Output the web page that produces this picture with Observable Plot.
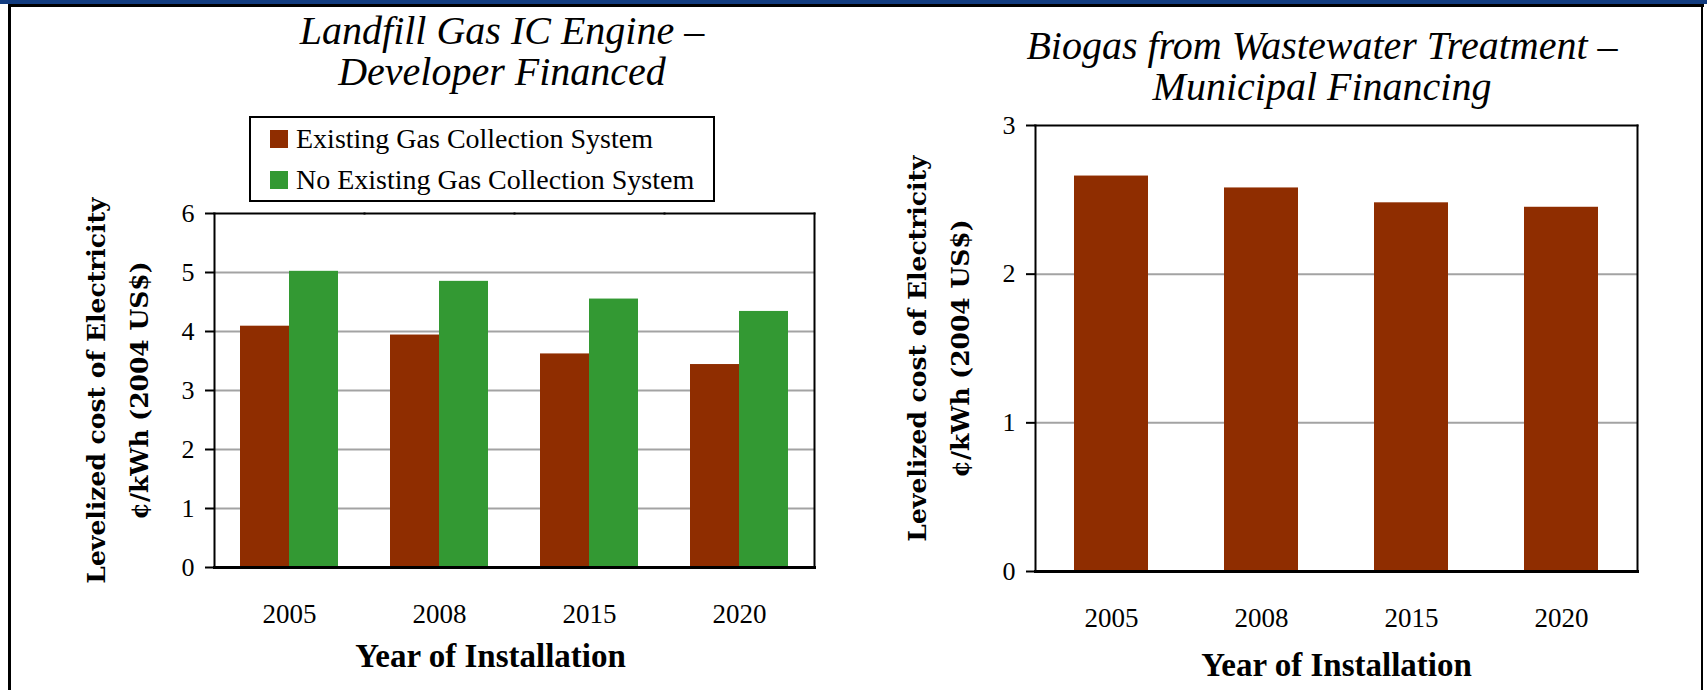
<!DOCTYPE html>
<html>
<head>
<meta charset="utf-8">
<script src="https://cdn.jsdelivr.net/npm/d3@7"></script>
<script src="https://cdn.jsdelivr.net/npm/@observablehq/plot@0.6"></script>
<style>
  html, body { margin: 0; padding: 0; background: #fff; }
  #page { position: relative; width: 1707px; height: 690px; overflow: hidden; background: #fff; }
  .deco { position: absolute; z-index: 5; }
  #chartL, #chartR { position: absolute; top: 0; }
  #chartL { left: 0; }
  #chartR { left: 860px; }
  #chartL svg, #chartR svg { display: block; background: transparent !important; }
  .title { position: absolute; z-index: 4; font-family: "Liberation Serif", serif; font-style: italic;
           font-size: 40px; line-height: 41px; text-align: center; color: #000; white-space: nowrap;
           transform: translateX(-50%); }
  #legend { position: absolute; z-index: 4; left: 249px; top: 116px; width: 466px; height: 86px;
            box-sizing: border-box; border: 2px solid #000; background: #fff; padding: 0 0 0 19px; }
  #legend [class*="-swatches"] { margin: 0 !important; min-height: 0 !important; }
  #legend [class$="-swatch"] { height: 41px; display: flex; align-items: center; padding: 0 !important; }
  #legend svg { margin-right: 8px !important; }
  [aria-label$="axis label"] { font-weight: bold; font-size: 33px; }
  #chartL [aria-label$="axis label"] { translate: -24px 0; }
</style>
</head>
<body>
<div id="page">
  <div id="chartL"></div>
  <div id="chartR"></div>
  <div id="titleL" class="title" style="left:502px; top:10px;"></div>
  <div id="titleR" class="title" style="left:1322px; top:25px;"></div>
  <div id="legend"></div>
  <div class="deco" style="left:0;top:0;width:1707px;height:4px;background:#123c80;"></div>
  <div class="deco" style="left:8px;top:4px;width:1696px;height:3px;background:#000;"></div>
  <div class="deco" style="left:8px;top:4px;width:3px;height:686px;background:#000;"></div>
  <div class="deco" style="left:1701px;top:4px;width:2px;height:686px;background:#000;"></div>
</div>
<script>
// ---- data ----
const years = ["2005", "2008", "2015", "2020"];
const seriesNames = ["Existing Gas Collection System", "No Existing Gas Collection System"];
const existingValues = [4.09, 3.94, 3.62, 3.44];
const noExistingValues = [5.02, 4.85, 4.55, 4.34];
const biogasValues = [2.66, 2.58, 2.48, 2.45];
const leftTicks = [0, 1, 2, 3, 4, 5, 6];
const rightTicks = [0, 1, 2, 3];
const titleLeft = ["Landfill Gas IC Engine –", "Developer Financed"];
const titleRight = ["Biogas from Wastewater Treatment –", "Municipal Financing"];
const yLabelLines = ["Levelized cost of Electricity", "¢/kWh (2004 US$)"];
const xLabel = "Year of Installation";

// ---- styles ----
const seriesColors = ["#8f2d00", "#339933"];
const gridColor = "#a3a3a3";
const FONT = '"Liberation Serif", serif';

const landfill = years.flatMap((y, i) => [
  {year: y, series: seriesNames[0], value: existingValues[i]},
  {year: y, series: seriesNames[1], value: noExistingValues[i]}
]);
const biogas = years.map((y, i) => ({year: y, value: biogasValues[i]}));

document.getElementById("titleL").innerHTML = titleLeft.join("<br>");
document.getElementById("titleR").innerHTML = titleRight.join("<br>");

const yLabelMark = (extra = {}) => Plot.text([yLabelLines.join("\n")], {
  text: d => d, frameAnchor: "left", textAnchor: "middle", lineAnchor: "middle",
  rotate: -90, dx: -102, lineHeight: 1.72, fontSize: 25, fontWeight: "bold",
  fontFamily: "DejaVu Serif", fill: "#000", ...extra
});

const left = Plot.plot({
  width: 840, height: 690,
  marginLeft: 213, marginRight: 25, marginTop: 213, marginBottom: 123,
  style: {fontFamily: FONT, color: "#000", background: "transparent", overflow: "visible"},
  fx: {domain: years, padding: 0},
  x: {domain: seriesNames, paddingInner: 0, paddingOuter: 0.52, axis: null},
  y: {domain: [0, 6]},
  color: {domain: seriesNames, range: seriesColors},
  marks: [
    Plot.gridY(leftTicks.filter(t => t > 0 && t < 6), {stroke: gridColor, strokeOpacity: 1, strokeWidth: 2}),
    Plot.barY(landfill, {fx: "year", x: "series", y: "value", fill: "series"}),
    Plot.frame({anchor: "top", stroke: "#000", strokeWidth: 2}),
    Plot.frame({anchor: "bottom", stroke: "#000", strokeWidth: 3}),
    Plot.frame({anchor: "left", stroke: "#000", strokeWidth: 2, facetAnchor: "left"}),
    Plot.frame({anchor: "right", stroke: "#000", strokeWidth: 2, facetAnchor: "right"}),
    Plot.axisY({ticks: leftTicks, tickFormat: d => String(d), tickSize: 9, tickPadding: 11,
                fontSize: 26, strokeWidth: 2, label: null}),
    Plot.axisFx({anchor: "bottom", tickSize: 0, tickPadding: 36, fontSize: 27,
                 label: xLabel, labelAnchor: "center", labelOffset: 99}),
    yLabelMark({facetAnchor: "left"})
  ]
});
document.getElementById("chartL").appendChild(left);

const legend = Plot.legend({
  color: {domain: seriesNames, range: seriesColors},
  legend: "swatches", columns: 1, swatchSize: 18,
  style: {fontFamily: FONT, fontSize: "28px", color: "#000"}
});
document.getElementById("legend").appendChild(legend);

const right = Plot.plot({
  width: 847, height: 690,
  marginLeft: 175, marginRight: 70, marginTop: 125, marginBottom: 119,
  style: {fontFamily: FONT, color: "#000", background: "transparent", overflow: "visible"},
  x: {domain: years, paddingInner: 0.51, paddingOuter: 0.255},
  y: {domain: [0, 3]},
  marks: [
    Plot.gridY(rightTicks.filter(t => t > 0 && t < 3), {stroke: gridColor, strokeOpacity: 1, strokeWidth: 2}),
    Plot.barY(biogas, {x: "year", y: "value", fill: seriesColors[0]}),
    Plot.frame({anchor: "top", stroke: "#000", strokeWidth: 2}),
    Plot.frame({anchor: "bottom", stroke: "#000", strokeWidth: 3}),
    Plot.frame({anchor: "left", stroke: "#000", strokeWidth: 2}),
    Plot.frame({anchor: "right", stroke: "#000", strokeWidth: 2}),
    Plot.axisY({ticks: rightTicks, tickFormat: d => String(d), tickSize: 9, tickPadding: 11,
                fontSize: 26, strokeWidth: 2, label: null}),
    Plot.axisX({anchor: "bottom", tickSize: 0, tickPadding: 36, fontSize: 27,
                label: xLabel, labelAnchor: "center", labelOffset: 104}),
    yLabelMark()
  ]
});
document.getElementById("chartR").appendChild(right);
</script>
</body>
</html>
